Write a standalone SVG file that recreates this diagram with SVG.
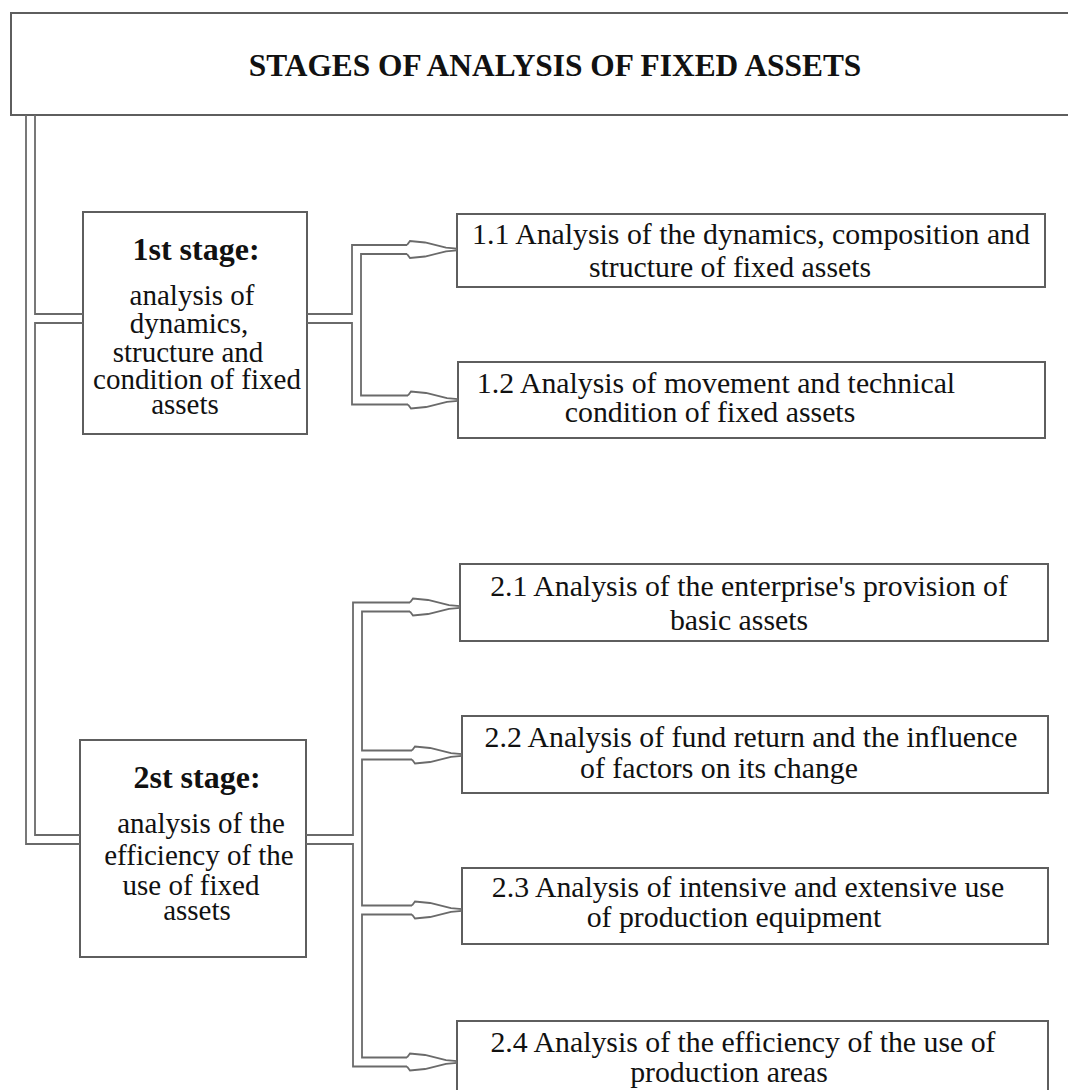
<svg xmlns="http://www.w3.org/2000/svg" xmlns:xlink="http://www.w3.org/1999/xlink" width="1068" height="1090" viewBox="0 0 1068 1090">
<style>
.box{fill:#fff;stroke:#5e5e5e;stroke-width:2}
.ln{fill:none;stroke:#6a6a6a;stroke-width:1.8}
.t{font-family:"Liberation Serif","Times New Roman",serif;font-size:29px;fill:#111;text-anchor:middle}
.s{font-family:"Liberation Serif","Times New Roman",serif;font-size:29.8px;fill:#111;text-anchor:middle}
.h{font-family:"Liberation Serif","Times New Roman",serif;font-size:32px;font-weight:bold;fill:#111;text-anchor:middle}
.ttl{font-family:"Liberation Serif","Times New Roman",serif;font-size:31.4px;font-weight:bold;fill:#111;text-anchor:middle}
</style>
<defs>
<path id="head" d="M0,-4.5 L3,-8.5 L18,-7 L39,-1.8 L50,-0.8 M50,0.8 L39,1.8 L18,7 L3,8.5 L0,4.5" fill="none" stroke="#6a6a6a" stroke-width="1.8"/>
</defs>
<rect width="1068" height="1090" fill="#fff"/>

<g id="title">
<rect class="box" x="11" y="13" width="1070" height="102"/>
<text class="ttl" x="555" y="76">STAGES OF ANALYSIS OF FIXED ASSETS</text>
</g>

<g id="stage1">
<rect class="box" x="83" y="212" width="224" height="222"/>
<text class="h" x="196" y="260">1st stage:</text>
<text class="t" x="192" y="305">analysis of</text>
<text class="t" x="189" y="333">dynamics,</text>
<text class="t" x="188" y="362">structure and</text>
<text class="t" x="197" y="389">condition of fixed</text>
<text class="t" x="185" y="414">assets</text>
</g>

<g id="stage2">
<rect class="box" x="80" y="740" width="226" height="217"/>
<text class="h" x="197" y="788">2st stage:</text>
<text class="t" x="201" y="833">analysis of the</text>
<text class="t" x="199" y="865">efficiency of the</text>
<text class="t" x="191" y="895">use of fixed</text>
<text class="t" x="197" y="920">assets</text>
</g>

<g id="n11">
<rect class="box" x="457" y="214" width="588" height="73"/>
<text class="s" x="751" y="244">1.1 Analysis of the dynamics, composition and</text>
<text class="s" x="730" y="277">structure of fixed assets</text>
</g>

<g id="n12">
<rect class="box" x="458" y="362" width="587" height="76"/>
<text class="s" x="716" y="393">1.2 Analysis of movement and technical</text>
<text class="s" x="710" y="422">condition of fixed assets</text>
</g>

<g id="n21">
<rect class="box" x="460" y="564" width="588" height="77"/>
<text class="s" x="749" y="596">2.1 Analysis of the enterprise's provision of</text>
<text class="s" x="739" y="630">basic assets</text>
</g>

<g id="n22">
<rect class="box" x="462" y="716" width="586" height="77"/>
<text class="s" x="751" y="747">2.2 Analysis of fund return and the influence</text>
<text class="s" x="719" y="778">of factors on its change</text>
</g>

<g id="n23">
<rect class="box" x="462" y="868" width="586" height="76"/>
<text class="s" x="748" y="897">2.3 Analysis of intensive and extensive use</text>
<text class="s" x="734" y="927">of production equipment</text>
</g>

<g id="n24">
<rect class="box" x="457" y="1021" width="591" height="80"/>
<text class="s" x="743" y="1052">2.4 Analysis of the efficiency of the use of</text>
<text class="s" x="729" y="1082">production areas</text>
</g>

<g id="connectors">
<path class="ln" d="M26,115 V844 H80"/>
<path class="ln" d="M35,115 V314 H83"/>
<path class="ln" d="M83,323 H35 V835 H80"/>

<path class="ln" d="M307,314 H352 V245 H407"/>
<path class="ln" d="M407,254 H361 V395.5 H408"/>
<path class="ln" d="M408,404.5 H352 V323 H307"/>
<use xlink:href="#head" x="407" y="249.5"/>
<use xlink:href="#head" x="408" y="400"/>

<path class="ln" d="M306,835 H353 V602.5 H410"/>
<path class="ln" d="M410,611.5 H362 V750.5 H412"/>
<path class="ln" d="M412,759.5 H362 V905.5 H412"/>
<path class="ln" d="M412,914.5 H362 V1057.5 H407"/>
<path class="ln" d="M407,1066.5 H353 V844 H306"/>
<use xlink:href="#head" x="410" y="607"/>
<use xlink:href="#head" x="412" y="755"/>
<use xlink:href="#head" x="412" y="910"/>
<use xlink:href="#head" x="407" y="1062"/>
</g>
</svg>
